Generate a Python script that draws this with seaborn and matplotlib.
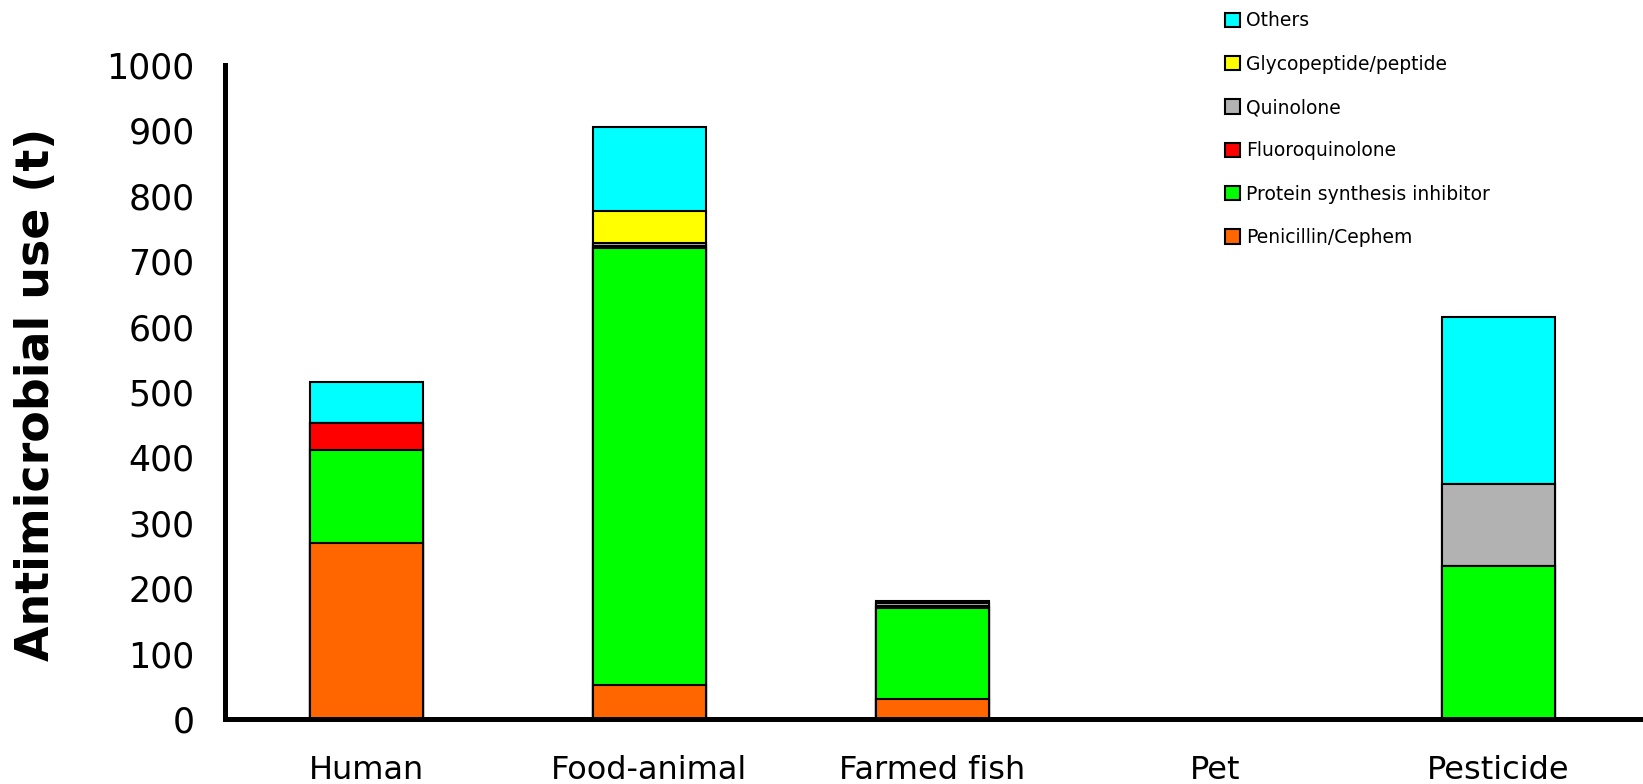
import numpy as np
import pandas as pd
import matplotlib
matplotlib.use("Agg")
import matplotlib.pyplot as plt
from matplotlib.patches import Patch
import seaborn as sns

# Antimicrobial use by sector (tonnes), split by drug class
sectors = ["Human", "Food-animal", "Farmed fish", "Pet", "Pesticide"]
penicillin_cephem = [269, 52, 31, 0, 0]
protein_synthesis = [143, 668, 139, 0, 234]
fluoroquinolone = [41, 4, 3, 0, 0]
quinolone = [0, 4, 4, 0, 126]
glycopeptide = [0, 49, 0, 0, 0]
others = [62, 128, 4, 0, 255]

classes = ["Penicillin/Cephem", "Protein synthesis inhibitor", "Fluoroquinolone",
           "Quinolone", "Glycopeptide/peptide", "Others"]
class_values = [penicillin_cephem, protein_synthesis, fluoroquinolone,
                quinolone, glycopeptide, others]
class_colors = ["#FF6600", "#00FF00", "#FF0000", "#B2B2B2", "#FFFF00", "#00FFFF"]
y_ticks = list(range(0, 1001, 100))

sns.set_style("white")
plt.rcParams["font.family"] = ["DejaVu Sans"]
plt.rcParams["text.color"] = "black"
plt.rcParams["xtick.color"] = "black"
plt.rcParams["ytick.color"] = "black"

fig = plt.figure(figsize=(16.43, 7.84), dpi=100)
ax = fig.add_axes([0.137, 0.083, 0.861, 0.834])

# Stacked bars: draw cumulative totals from the top layer down
cumulative = np.cumsum(np.array(class_values, dtype=float), axis=0)
for i in range(len(classes) - 1, -1, -1):
    df = pd.DataFrame({"sector": sectors, "value": cumulative[i]})
    sns.barplot(data=df, x="sector", y="value", order=sectors, color=class_colors[i],
                saturation=1, width=0.4, errorbar=None, edgecolor="black",
                linewidth=1.5, ax=ax)

ax.set_xlim(-0.5, 4.5)
ax.set_ylim(0, 1000)
ax.set_yticks(y_ticks)
ax.set_yticklabels([str(t) for t in y_ticks], fontsize=25, color="black")
ax.set_xticks(range(len(sectors)))
ax.set_xticklabels(sectors, fontsize=23, color="black")
ax.set_xticks(np.arange(0.5, 5.0, 1.0), minor=True)
ax.set_xlabel("")
ax.set_ylabel("")
fig.text(0.0225, 0.497, "Antimicrobial use (t)", rotation=90, ha="center", va="center",
         fontsize=33, fontweight="bold", color="black")

for side in ["top", "right"]:
    ax.spines[side].set_visible(False)
for side in ["left", "bottom"]:
    ax.spines[side].set_linewidth(3.6)
    ax.spines[side].set_color("black")

ax.tick_params(axis="y", direction="in", length=7, width=3.6, pad=22, colors="black")
ax.tick_params(axis="x", which="major", length=0, pad=26, colors="black")
ax.tick_params(axis="x", which="minor", direction="in", length=7, width=3.6, color="black")

handles = [Patch(facecolor=c, edgecolor="black", linewidth=1.5, label=l)
           for c, l in zip(class_colors[::-1], classes[::-1])]
leg = fig.legend(handles=handles, loc="upper left", bbox_to_anchor=(0.739, 1.0),
                 frameon=False, fontsize=13.5, handlelength=0.8, handleheight=0.8,
                 handletextpad=0.3, labelspacing=1.3, borderaxespad=0.2)
for t in leg.get_texts():
    t.set_color("black")

fig.savefig("out.png", dpi=100)
